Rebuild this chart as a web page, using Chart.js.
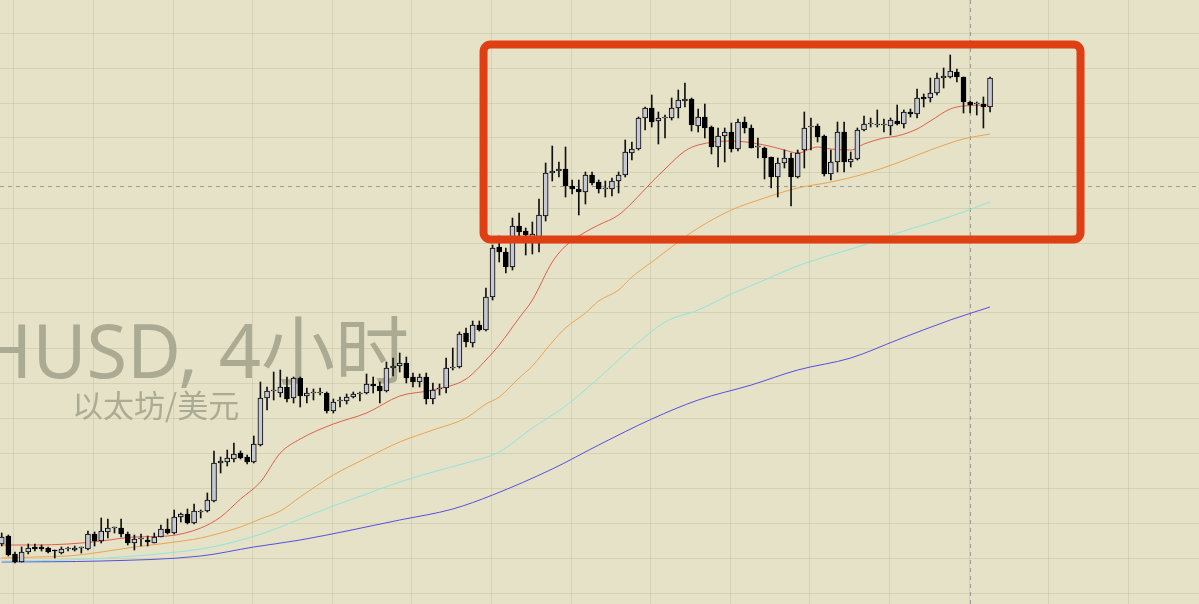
<!DOCTYPE html>
<html>
<head>
<meta charset="utf-8">
<script src="https://cdn.jsdelivr.net/npm/chart.js@4/dist/chart.umd.min.js"></script>
<style>
  html, body { margin: 0; padding: 0; background: #e5e2c7; overflow: hidden; }
  canvas { display: block; }
</style>
</head>
<body>
<canvas id="chart" width="1199" height="604"></canvas>
<script>
// ETH/USD 4h candles (oldest first)
var opens = [
    1060, 1068, 1050, 1042, 1052, 1057, 1057, 1056, 1054, 1051,
    1055, 1054, 1056, 1055, 1070, 1063, 1072, 1076, 1076, 1070,
    1061, 1065, 1064, 1061, 1067, 1075, 1071, 1087, 1090, 1081,
    1092, 1093, 1103, 1141, 1142, 1145, 1151, 1147, 1142, 1159,
    1206, 1213, 1211, 1217, 1206, 1226, 1208, 1211, 1211, 1211,
    1193, 1203, 1203, 1207, 1210, 1211, 1220, 1218, 1213, 1236,
    1238, 1241, 1227, 1222, 1227, 1205, 1215, 1216, 1236, 1237,
    1271, 1261, 1279, 1274, 1307, 1357, 1352, 1337, 1378, 1373,
    1366, 1361, 1388, 1431, 1433, 1435, 1418, 1415, 1412, 1429,
    1422, 1415, 1415, 1423, 1429, 1451, 1455, 1486, 1496, 1483,
    1486, 1486, 1496, 1503, 1505, 1478, 1487, 1477, 1457, 1468,
    1472, 1455, 1482, 1476, 1457, 1456, 1447, 1427, 1441, 1446,
    1427, 1454, 1477, 1478, 1468, 1430, 1442, 1472, 1442, 1445,
    1474, 1480, 1479, 1479, 1478, 1483, 1480, 1492, 1490, 1507,
    1506, 1511, 1526, 1527, 1532, 1527, 1502, 1500, 1500, 1497
];
var highs = [
    1071, 1069, 1052, 1057, 1060, 1060, 1059, 1057, 1054, 1057,
    1057, 1058, 1057, 1073, 1072, 1086, 1085, 1077, 1085, 1072,
    1069, 1070, 1068, 1071, 1079, 1085, 1094, 1091, 1095, 1100,
    1094, 1111, 1153, 1147, 1154, 1161, 1153, 1149, 1168, 1222,
    1217, 1232, 1234, 1227, 1227, 1227, 1216, 1215, 1216, 1212,
    1205, 1207, 1210, 1212, 1212, 1230, 1227, 1222, 1242, 1246,
    1251, 1247, 1231, 1230, 1231, 1221, 1220, 1246, 1256, 1272,
    1276, 1283, 1283, 1316, 1359, 1368, 1356, 1386, 1391, 1376,
    1382, 1405, 1441, 1458, 1442, 1457, 1424, 1424, 1432, 1432,
    1424, 1423, 1426, 1432, 1464, 1462, 1487, 1497, 1509, 1492,
    1489, 1506, 1514, 1521, 1506, 1495, 1500, 1478, 1476, 1476,
    1481, 1485, 1487, 1479, 1466, 1457, 1447, 1446, 1454, 1451,
    1454, 1492, 1486, 1480, 1469, 1454, 1482, 1482, 1452, 1476,
    1488, 1486, 1494, 1485, 1486, 1499, 1494, 1495, 1515, 1510,
    1526, 1531, 1536, 1549, 1535, 1527, 1503, 1502, 1507, 1527
];
var lows = [
    1058, 1048, 1041, 1042, 1050, 1053, 1053, 1051, 1046, 1050,
    1053, 1053, 1051, 1054, 1058, 1061, 1066, 1071, 1067, 1059,
    1054, 1058, 1058, 1061, 1067, 1070, 1070, 1082, 1080, 1080,
    1086, 1092, 1102, 1131, 1138, 1142, 1145, 1140, 1141, 1158,
    1194, 1204, 1207, 1202, 1201, 1197, 1201, 1204, 1209, 1191,
    1191, 1197, 1200, 1206, 1203, 1210, 1211, 1201, 1212, 1228,
    1232, 1221, 1217, 1217, 1200, 1200, 1209, 1211, 1234, 1236,
    1257, 1257, 1273, 1273, 1304, 1342, 1331, 1334, 1368, 1349,
    1350, 1352, 1383, 1423, 1427, 1407, 1410, 1389, 1400, 1419,
    1411, 1407, 1408, 1411, 1427, 1444, 1454, 1474, 1477, 1460,
    1466, 1484, 1486, 1497, 1473, 1472, 1466, 1450, 1437, 1442,
    1452, 1453, 1471, 1456, 1446, 1425, 1416, 1407, 1436, 1398,
    1426, 1436, 1454, 1462, 1428, 1424, 1432, 1432, 1437, 1444,
    1473, 1477, 1477, 1472, 1469, 1479, 1476, 1487, 1486, 1497,
    1502, 1509, 1516, 1526, 1522, 1491, 1491, 1489, 1476, 1492
];
var closes = [
    1067, 1049, 1042, 1052, 1056, 1055, 1055, 1052, 1053, 1055,
    1056, 1056, 1057, 1070, 1063, 1073, 1076, 1077, 1070, 1061,
    1065, 1066, 1062, 1067, 1075, 1071, 1087, 1090, 1081, 1093,
    1093, 1104, 1141, 1143, 1146, 1150, 1146, 1142, 1160, 1206,
    1213, 1214, 1217, 1205, 1226, 1208, 1211, 1212, 1212, 1193,
    1202, 1204, 1207, 1210, 1211, 1220, 1218, 1213, 1236, 1238,
    1241, 1226, 1222, 1227, 1205, 1214, 1216, 1236, 1237, 1270,
    1262, 1279, 1274, 1307, 1356, 1352, 1337, 1378, 1372, 1369,
    1370, 1389, 1431, 1433, 1435, 1418, 1415, 1412, 1429, 1421,
    1415, 1416, 1423, 1429, 1452, 1455, 1486, 1496, 1482, 1486,
    1487, 1496, 1504, 1505, 1479, 1487, 1476, 1457, 1468, 1472,
    1455, 1482, 1476, 1456, 1458, 1446, 1427, 1441, 1446, 1427,
    1451, 1476, 1478, 1467, 1430, 1442, 1472, 1442, 1445, 1474,
    1480, 1481, 1480, 1480, 1484, 1480, 1492, 1490, 1506, 1505,
    1511, 1526, 1528, 1533, 1527, 1502, 1499, 1501, 1497, 1526
];

// Moving averages, sampled at candle indices
var maFastIdx = [0, 5, 10, 15, 20, 25, 30, 33, 36, 39, 42, 45, 50, 55, 60, 65, 70, 73, 75, 78, 80, 83, 85, 88, 90, 93, 95, 98, 100, 103, 105, 110, 115, 118, 120, 123, 125, 128, 130, 133, 135, 138, 140, 143, 145, 149];
var maFast    = [1059, 1059, 1060, 1063, 1067, 1068, 1076, 1087, 1105, 1122, 1151, 1165, 1180, 1191, 1208, 1214, 1225, 1244, 1259, 1286, 1304, 1342, 1358, 1372, 1379, 1389, 1401, 1422, 1435, 1453, 1459, 1463, 1459, 1454, 1451, 1457, 1455, 1454, 1460, 1466, 1468, 1475, 1483, 1495, 1498, 1499];

var maMidIdx = [0, 5, 10, 15, 20, 25, 30, 33, 36, 39, 42, 45, 50, 55, 60, 65, 70, 73, 75, 78, 80, 83, 85, 88, 90, 93, 95, 98, 100, 103, 105, 110, 115, 120, 125, 130, 135, 140, 145, 149];
var maMid    = [1046, 1047, 1048, 1052, 1057, 1061, 1066, 1071, 1077, 1085, 1093, 1107, 1129, 1146, 1162, 1174, 1186, 1200, 1207, 1226, 1238, 1262, 1276, 1291, 1303, 1314, 1327, 1342, 1352, 1367, 1376, 1394, 1406, 1416, 1422, 1430, 1441, 1454, 1465, 1470];

var maSlowIdx = [0, 10, 20, 25, 30, 35, 40, 45, 50, 55, 60, 65, 70, 75, 80, 85, 90, 95, 100, 105, 110, 115, 120, 125, 130, 135, 140, 145, 149];
var maSlow    = [1043, 1044, 1048, 1051, 1055, 1062, 1072, 1085, 1098, 1110, 1122, 1132, 1141, 1152, 1176, 1198, 1226, 1256, 1282, 1294, 1310, 1324, 1338, 1349, 1359, 1371, 1381, 1392, 1402];

var maLongIdx = [0, 15, 30, 38, 45, 60, 68, 74, 83, 90, 98, 105, 113, 120, 128, 135, 143, 149];
var maLong    = [1042, 1043, 1048, 1057, 1064, 1084, 1095, 1109, 1135, 1159, 1185, 1204, 1219, 1234, 1246, 1264, 1284, 1297];

// Crosshair and highlighted zone (candle index / price)
var crossIdx = 146;
var crossPrice = 1418;
var boxIdx = [72.64, 162.64];
var boxPrice = [1364.5, 1559.5];

var BG = '#e5e2c7';
var GRID = 'rgba(160, 155, 110, 0.22)';
var UP_FILL = '#c6c8d6';
var DOWN_FILL = '#000000';

function toPoints(idx, vals) {
    return idx.map(function(x, i) { return { x: x, y: vals[i] }; });
}

var bodies = opens.map(function(o, i) { return { x: i, y: [o, closes[i]] }; });
var wicks  = lows.map(function(l, i) { return { x: i, y: [l, highs[i]] }; });
var bodyColors = opens.map(function(o, i) { return closes[i] >= o ? UP_FILL : DOWN_FILL; });

function maLine(idx, vals, color) {
    return {
        type: 'line',
        data: toPoints(idx, vals),
        borderColor: color,
        borderWidth: 1,
        pointRadius: 0,
        cubicInterpolationMode: 'monotone',
        order: 3,
    };
}

// Background, watermark, highlight box, crosshair
var decorPlugin = {
    id: 'decor',
    beforeDraw: function(chart) {
        var ctx = chart.ctx;
        ctx.save();
        ctx.fillStyle = BG;
        ctx.fillRect(0, 0, chart.width, chart.height);
        ctx.restore();
    },
    beforeDatasetsDraw: function(chart) {
        var ctx = chart.ctx;
        ctx.save();
        ctx.fillStyle = '#abaa93';
        ctx.textBaseline = 'alphabetic';
        ctx.textAlign = 'right';
        ctx.font = '74px "Noto Sans", "Noto Sans CJK SC", sans-serif';
        ctx.fillText('ETHUSD,', 198, 378);
        ctx.fillText('4小时', 409, 378);
        ctx.textAlign = 'left';
        ctx.font = '31px "Noto Sans CJK SC", sans-serif';
        ctx.fillText('以太坊/美元', 72, 417);

        // crosshair
        var x = chart.scales.x, y = chart.scales.y;
        ctx.strokeStyle = '#9c9c94';
        ctx.lineWidth = 1;
        ctx.setLineDash([4, 4]);
        var cx = Math.round(x.getPixelForValue(crossIdx)) + 0.5;
        var cy = Math.round(y.getPixelForValue(crossPrice)) + 0.5;
        ctx.beginPath();
        ctx.moveTo(cx, 0); ctx.lineTo(cx, chart.height);
        ctx.moveTo(0, cy); ctx.lineTo(chart.width, cy);
        ctx.stroke();
        ctx.restore();
    },
    afterDatasetsDraw: function(chart) {
        var ctx = chart.ctx;
        var x = chart.scales.x, y = chart.scales.y;
        var l = x.getPixelForValue(boxIdx[0]), r = x.getPixelForValue(boxIdx[1]);
        var t = y.getPixelForValue(boxPrice[1]), b = y.getPixelForValue(boxPrice[0]);
        ctx.save();
        ctx.strokeStyle = '#df3f12';
        ctx.lineWidth = 8;
        ctx.beginPath();
        ctx.roundRect(l, t, r - l, b - t, 7);
        ctx.stroke();
        ctx.restore();
    }
};

var xMin = -0.26;
var xMax = xMin + 1199 / 6.633;

new Chart(document.getElementById('chart'), {
    type: 'bar',
    data: {
        datasets: [
            {
                label: 'body',
                data: bodies,
                backgroundColor: bodyColors,
                borderColor: '#000000',
                borderWidth: 1,
                borderSkipped: false,
                barThickness: 5,
                grouped: false,
                order: 1,
            },
            {
                label: 'wick',
                data: wicks,
                backgroundColor: '#111111',
                borderWidth: 0,
                barThickness: 1,
                grouped: false,
                order: 2,
            },
            maLine(maFastIdx, maFast, '#e0604c'),
            maLine(maMidIdx, maMid, '#eba450'),
            maLine(maSlowIdx, maSlow, '#8fe6dc'),
            maLine(maLongIdx, maLong, '#5650e2'),
        ],
    },
    options: {
        responsive: false,
        devicePixelRatio: 1,
        animation: false,
        layout: { padding: 0 },
        plugins: {
            legend: { display: false },
            tooltip: { enabled: false },
        },
        scales: {
            x: {
                type: 'linear',
                min: xMin,
                max: xMax,
                offset: false,
                ticks: { display: false },
                grid: { color: GRID, drawTicks: false, offset: false },
                border: { display: false },
                afterBuildTicks: function(axis) {
                    var t = [];
                    for (var v = 1.85; v < xMax; v += 12) t.push({ value: v });
                    axis.ticks = t;
                },
            },
            y: {
                type: 'linear',
                min: 1000,
                max: 1604,
                ticks: { display: false },
                grid: { color: GRID, drawTicks: false },
                border: { display: false },
                afterBuildTicks: function(axis) {
                    var t = [];
                    for (var v = 1011; v < 1604; v += 35) t.push({ value: v });
                    axis.ticks = t;
                },
            },
        },
    },
    plugins: [decorPlugin],
});
</script>
</body>
</html>
